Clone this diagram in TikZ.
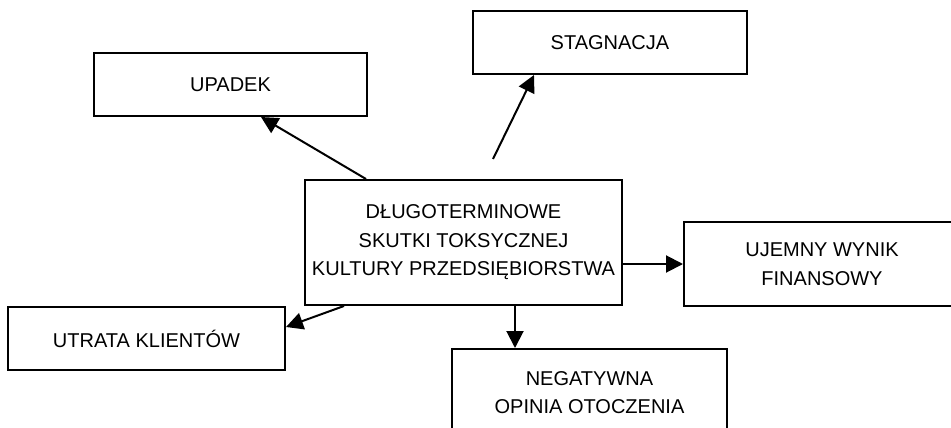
\documentclass[tikz,border=0pt]{standalone}
\usepackage{fontspec}
\setmainfont{Liberation Sans}
\usetikzlibrary{arrows.meta}
\begin{document}
\begin{tikzpicture}[x=1pt,y=-1pt,
  box/.style={draw=black, line width=2pt, fill=white, rectangle, inner sep=0pt,
    align=center, font=\fontsize{20}{28.5}\selectfont},
  link/.style={line width=2pt, -{Triangle[length=17pt,width=17pt]}}]
\path[use as bounding box] (0,0) rectangle (951,428);
\clip (0,0) rectangle (951,428);

% central cause
\node[box, minimum width=317pt, minimum height=125pt] (ctr) at (463.5,242.5)
  {DŁUGOTERMINOWE\\SKUTKI TOKSYCZNEJ\\KULTURY PRZEDSIĘBIORSTWA};

% consequences
\node[box, minimum width=273pt, minimum height=63pt] (up) at (230.5,84.5) {UPADEK};
\node[box, minimum width=274pt, minimum height=63pt] (stag) at (610,42.5) {STAGNACJA};
\node[box, minimum width=276pt, minimum height=84pt] (uj) at (822,264)
  {UJEMNY WYNIK\\FINANSOWY};
\node[box, minimum width=277pt, minimum height=63pt] (ut) at (146.5,338.5) {UTRATA KLIENTÓW};
\node[box, minimum width=275pt, minimum height=87pt] (neg) at (589.5,392.5)
  {NEGATYWNA\\OPINIA OTOCZENIA};

\coordinate (sfoot) at (493,159);

% connectors
\draw[link] ([xshift=62pt]ctr.north west) -- ([xshift=30.5pt]up.south);
\draw[link] (sfoot) -- ([xshift=62pt]stag.south west);
\draw[link] (ctr.east |- uj.west) -- (uj.west);
\draw[link] ([xshift=40pt]ctr.south west) -- ([yshift=11.5pt]ut.east);
\draw[link] ([xshift=51.5pt]ctr.south) -- ([xshift=-74.5pt]neg.north);
\end{tikzpicture}
\end{document}
